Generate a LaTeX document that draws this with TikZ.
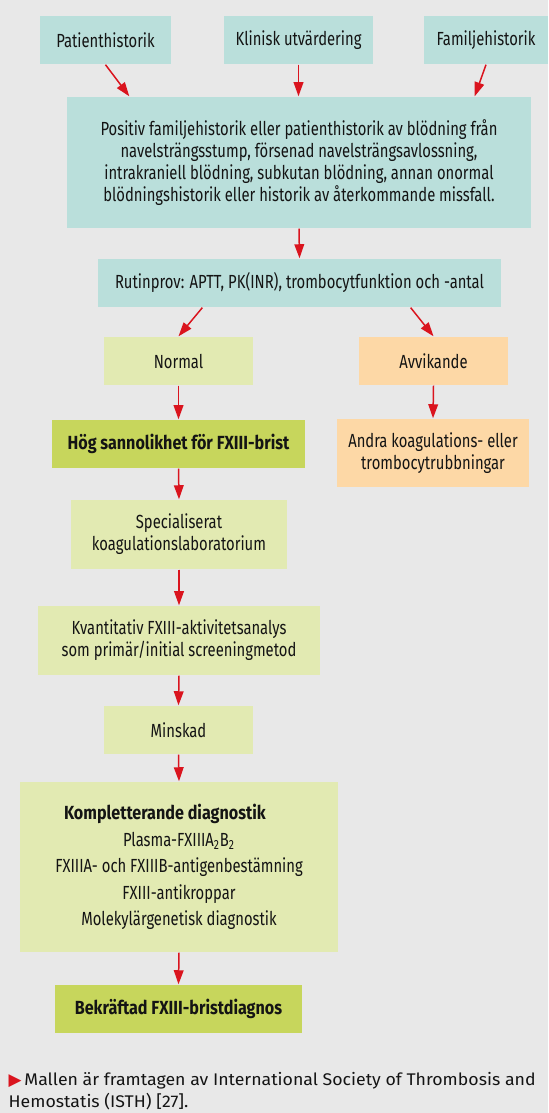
\documentclass[tikz,border=0pt]{standalone}
\usepackage{fontspec}
\setmainfont{Fira Sans}[FakeStretch=0.78,BoldFeatures={FakeStretch=0.85}]
\newfontfamily\notefont{Fira Sans}[FakeStretch=1.05]
\newfontfamily\symbolfont{DejaVu Sans}
\usetikzlibrary{arrows.meta}
\definecolor{bgGrey}{RGB}{232,232,232}
\definecolor{cyanFill}{RGB}{186,223,219}
\definecolor{paleFill}{RGB}{226,234,178}
\definecolor{strongFill}{RGB}{199,214,92}
\definecolor{orangeFill}{RGB}{253,216,166}
\definecolor{arrowRed}{RGB}{218,20,30}
\definecolor{inkBlack}{RGB}{20,20,20}

\begin{document}
\begin{tikzpicture}[line width=0.8pt,>={Triangle[length=8pt,width=5.5pt]},
  every node/.style={font=\fontsize{10.8}{12.6}\selectfont,text=inkBlack,align=center,inner sep=0pt},
  cyanbox/.style={fill=cyanFill,minimum height=0.96cm},
  palebox/.style={fill=paleFill,minimum height=0.96cm},
  strongbox/.style={fill=strongFill,minimum height=0.96cm},
  orangebox/.style={fill=orangeFill,minimum height=0.96cm},
  arr/.style={->,draw=arrowRed,fill=arrowRed,line width=0.85pt}]
% background and page size
\fill[bgGrey] (0,0) rectangle (10.96,-22.26);
\useasboundingbox (0,0) rectangle (10.96,-22.26);
% ================= history =================
\node[cyanbox,minimum width=2.62cm] (pat) at (2.11,-0.80) {Patienthistorik};
\node[cyanbox,minimum width=2.98cm] (klin) at (5.97,-0.80) {Klinisk utvärdering};
\node[cyanbox,minimum width=2.48cm] (fam) at (9.72,-0.80) {Familjehistorik};
\node[cyanbox,minimum width=9.28cm,minimum height=2.62cm] (hist) at (5.98,-3.25)
  {Positiv familjehistorik eller patienthistorik av blödning från\\
   navelsträngsstump, försenad navelsträngsavlossning,\\
   intrakraniell blödning, subkutan blödning, annan onormal\\
   blödningshistorik eller historik av återkommande missfall.};
\draw[arr] (pat.south) -- ([xshift=1.26cm]hist.north west);
\draw[arr] (klin.south) -- (klin.south |- hist.north);
\draw[arr] (fam.south) -- ([xshift=-1.14cm]hist.north east);
% ================= routine tests =================
\node[cyanbox,minimum width=8.06cm] (rutin) at (5.99,-5.66)
  {Rutinprov: APTT, PK(INR), trombocytfunktion och -antal};
\draw[arr] (hist.south) -- (rutin.north);
\node[palebox,minimum width=2.98cm] (normal) at (3.57,-7.22) {Normal};
\node[orangebox,minimum width=2.98cm] (avv) at (8.67,-7.22) {Avvikande};
\draw[arr] ([xshift=2.1cm]rutin.south west) -- (normal.north);
\draw[arr] ([xshift=-1.82cm]rutin.south east) -- (avv.north);
\node[strongbox,minimum width=5.06cm] (hog) at (3.57,-8.88)
  {\bfseries Hög sannolikhet för FXIII-brist};
\node[orangebox,minimum width=3.84cm,minimum height=1.36cm] (andra) at (8.66,-9.06)
  {Andra koagulations- eller\\trombocytrubbningar};
\draw[arr] (normal.south) -- (hog.north);
\draw[arr] (avv.south) -- (andra.north);
% ================= FXIII work-up =================
\node[palebox,minimum width=4.32cm,minimum height=1.38cm] (spec) at (3.58,-10.69)
  {Specialiserat\\koagulationslaboratorium};
\node[palebox,minimum width=5.64cm,minimum height=1.38cm] (kvant) at (3.58,-12.81)
  {Kvantitativ FXIII-aktivitetsanalys\\som primär/initial screeningmetod};
\node[palebox,minimum width=2.98cm] (minsk) at (3.57,-14.60) {Minskad};
\node[palebox,minimum width=6.36cm,minimum height=3.40cm,font=\fontsize{10.8}{15}\selectfont] (kompl) at (3.58,-17.34)
  {\textbf{Kompletterande diagnostik}\hspace*{0.56cm}\\
   Plasma-FXIIIA\textsubscript{2}B\textsubscript{2}\\
   FXIIIA- och FXIIIB-antigenbestämning\\
   FXIII-antikroppar\\
   Molekylärgenetisk diagnostik};
\node[strongbox,minimum width=4.94cm] (bekr) at (3.57,-20.18)
  {\bfseries Bekräftad FXIII-bristdiagnos};
\draw[arr] (hog.south) -- (spec.north);
\draw[arr] (spec.south) -- (kvant.north);
\draw[arr] (kvant.south) -- (minsk.north);
\draw[arr] (minsk.south) -- (kompl.north);
\draw[arr] (kompl.south) -- (bekr.north);
% source note
\node[anchor=west,align=left,font=\notefont\fontsize{9.6}{12.5}\selectfont] (note) at (0.16,-21.82)
  {{\color{arrowRed}\symbolfont ▶}\,Mallen är framtagen av International Society of Thrombosis and\\
   Hemostatis (ISTH) [27].};
\end{tikzpicture}
\end{document}
